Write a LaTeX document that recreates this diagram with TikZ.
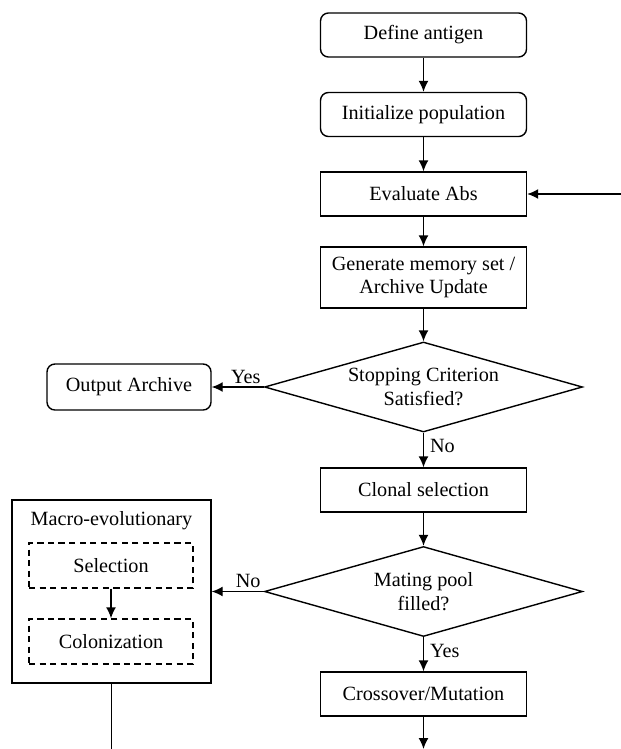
\documentclass[tikz,border=0pt]{standalone}
\usepackage{fontspec}
\setmainfont{Liberation Serif}
\usetikzlibrary{shapes.geometric,arrows.meta}

\begin{document}
\begin{tikzpicture}[font=\fontsize{11.5}{13.5}\selectfont, line width=0.8pt,
    >={Latex[length=2.2mm,width=2mm]},
    box/.style={draw, minimum width=4.12cm, minimum height=0.88cm, align=center, inner sep=2pt},
    term/.style={box, rounded corners=4.5pt},
    choice/.style={draw, diamond, aspect=3.5, inner sep=0pt, minimum width=6.36cm, minimum height=1.8cm, align=center},
    dbox/.style={draw, dash pattern=on 3.5pt off 2.5pt, minimum width=3.28cm, minimum height=0.9cm}]
    \useasboundingbox (0,0) rectangle (12.42,-14.98);
    \node[term](def) at (8.47,-0.70) {Define antigen};
    \node[term](init) at (8.47,-2.29) {Initialize population};
    \node[box](eval) at (8.47,-3.88) {Evaluate Abs};
    \node[box, minimum height=1.22cm](gen) at (8.47,-5.55) {Generate memory set /\\Archive Update};
    \node[choice](stop) at (8.47,-7.74) {Stopping Criterion\\Satisfied?};
    \node[term, minimum width=3.28cm, minimum height=0.92cm](out) at (2.58,-7.74) {Output Archive};
    \node[box](clonal) at (8.47,-9.80) {Clonal selection};
    \node[choice](mate) at (8.47,-11.83) {Mating pool\\filled?};
    \node[box](cross) at (8.47,-13.88) {Crossover/Mutation};
    \node[draw, minimum width=3.98cm, minimum height=3.66cm](macro) at (2.23,-11.83) {};
    \node(macrotxt) at (2.23,-10.42) {Macro-evolutionary};
    \node[dbox](sel) at (2.22,-11.31) {Selection};
    \node[dbox](col) at (2.22,-12.83) {Colonization};
    \coordinate (fb) at (12.42,-3.88);
    \coordinate (mend) at (2.23,-14.98);
    \coordinate (cend) at (8.47,-14.98);

    \draw[->] (def) -- (init);
    \draw[->] (init) -- (eval);
    \draw[->] (fb) -- (eval);
    \draw[->] (eval) -- (gen);
    \draw[->] (gen) -- (stop);
    \draw[->] (stop) -- (out) node[pos=0, anchor=south east, inner sep=1.5pt](yes1) {Yes};
    \draw[->] (stop) -- (clonal) node[pos=0, anchor=north west](no1) {No};
    \draw[->] (clonal) -- (mate);
    \draw[->] (mate) -- (macro) node[pos=0, anchor=south east, inner sep=1.5pt](no2) {No};
    \draw[->] (mate) -- (cross) node[pos=0, anchor=north west](yes2) {Yes};
    \draw[->] (sel) -- (col);
    \draw (macro) -- (mend);
    \draw[->] (cross) -- (cend);
\end{tikzpicture}
\end{document}
